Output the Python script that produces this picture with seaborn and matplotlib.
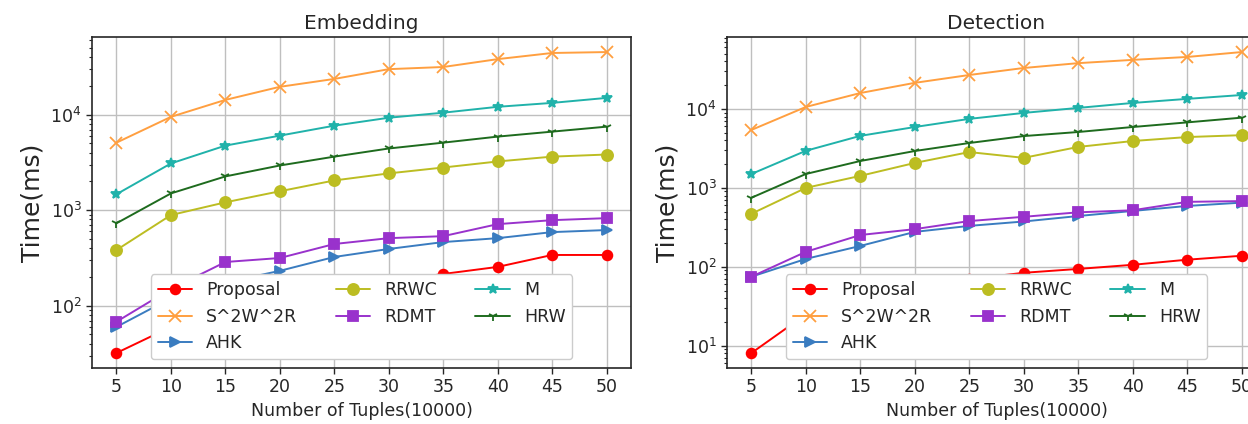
import matplotlib
matplotlib.use("Agg")
import matplotlib.pyplot as plt
import seaborn as sns
import pandas as pd

tuples = [5, 10, 15, 20, 25, 30, 35, 40, 45, 50]
methods = ["Proposal", "S^2W^2R", "AHK", "RRWC", "RDMT", "M", "HRW"]

# Embedding time (ms)
emb_proposal = [32, 60, 90, 120, 150, 180, 215, 255, 340, 340]
emb_s2w2r = [5100, 9500, 14300, 19600, 23700, 30000, 31600, 38200, 44300, 45300]
emb_ahk = [60, 120, 175, 232, 324, 393, 464, 510, 590, 620]
emb_rrwc = [383, 890, 1210, 1580, 2050, 2430, 2800, 3240, 3640, 3830]
emb_rdmt = [68, 150, 287, 316, 443, 510, 535, 715, 787, 826]
emb_m = [1470, 3090, 4750, 6040, 7680, 9300, 10500, 12100, 13300, 15000]
emb_hrw = [730, 1500, 2260, 2940, 3640, 4430, 5100, 5900, 6650, 7500]

# Detection time (ms)
det_proposal = [8.1, 25, 40, 55, 70, 84, 94, 106, 123, 138]
det_s2w2r = [5420, 10600, 15900, 21400, 26900, 33000, 38000, 41800, 45500, 52500]
det_ahk = [75, 126, 184, 277, 330, 375, 440, 510, 590, 650]
det_rrwc = [470, 1000, 1420, 2070, 2840, 2400, 3300, 3920, 4400, 4650]
det_rdmt = [75, 155, 253, 300, 380, 430, 490, 520, 665, 680]
det_m = [1500, 2950, 4560, 5900, 7480, 8900, 10300, 11900, 13400, 15000]
det_hrw = [750, 1500, 2190, 2930, 3700, 4530, 5100, 5900, 6750, 7750]

titles = ["Embedding", "Detection"]

colors = {"Proposal": "#ff0000", "S^2W^2R": "#ff9f40", "AHK": "#3a7cc0",
          "RRWC": "#bcbd22", "RDMT": "#9932cc", "M": "#20b2aa", "HRW": "#1e6b1e"}
markers = {"Proposal": "o", "S^2W^2R": "x", "AHK": ">", "RRWC": "o",
           "RDMT": "s", "M": "*", "HRW": "1"}
msizes = {"Proposal": 7, "S^2W^2R": 8, "AHK": 7, "RRWC": 8,
          "RDMT": 7.5, "M": 7, "HRW": 7}

panels = [
    [emb_proposal, emb_s2w2r, emb_ahk, emb_rrwc, emb_rdmt, emb_m, emb_hrw],
    [det_proposal, det_s2w2r, det_ahk, det_rrwc, det_rdmt, det_m, det_hrw],
]

sns.set_style("whitegrid", {"axes.edgecolor": "0.15", "grid.color": "0.75",
                            "xtick.bottom": True, "ytick.left": True})
plt.rcParams["font.family"] = ["DejaVu Sans"]

fig = plt.figure(figsize=(12.48, 4.24), dpi=100)
axes = [fig.add_axes([0.0737, 0.132, 0.432, 0.7807]),
        fig.add_axes([0.5825, 0.132, 0.432, 0.7807])]

for ax, title, series in zip(axes, titles, panels):
    for name, vals in zip(methods, series):
        df = pd.DataFrame({"x": tuples, "y": vals})
        sns.lineplot(data=df, x="x", y="y", ax=ax, color=colors[name],
                     marker=markers[name], markersize=msizes[name],
                     markeredgecolor=colors[name], markeredgewidth=1.3,
                     linewidth=1.4, label=name, legend=False)
    ax.set_yscale("log")
    ax.set_xticks(tuples)
    ax.set_title(title, fontsize=14.5)
    ax.set_xlabel("Number of Tuples(10000)", fontsize=12.5)
    ax.set_ylabel("Time(ms)", fontsize=18)
    ax.tick_params(axis="both", labelsize=12.5, direction="out", length=4,
                   width=1, color="0.15")
    ax.tick_params(axis="y", which="minor", left=True, length=2, width=0.8,
                   color="0.15")
    ax.grid(True, which="major", color="0.75", linewidth=1)
    ax.grid(False, which="minor")
    for sp in ax.spines.values():
        sp.set_linewidth(1.2)
    h, l = ax.get_legend_handles_labels()
    leg = ax.legend(h, l, loc="lower center", ncol=3, fontsize=12.5,
                    framealpha=1.0, borderaxespad=0.5, columnspacing=2.2)
    leg.set_zorder(10)

fig.savefig("out.png", dpi=100)
